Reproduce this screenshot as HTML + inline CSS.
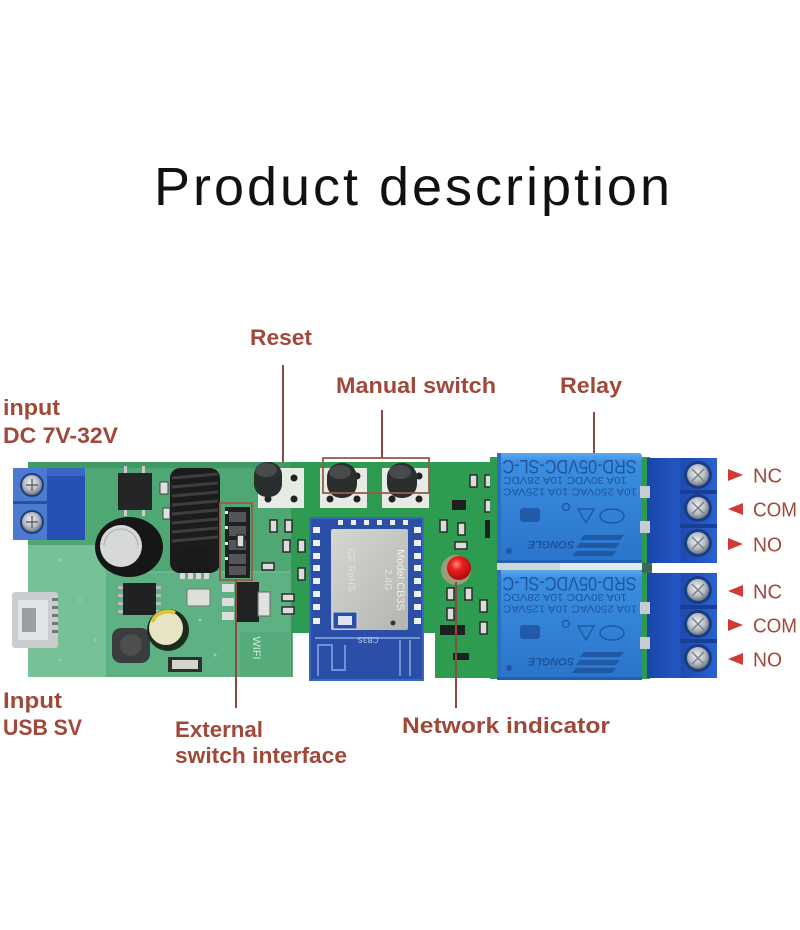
<!DOCTYPE html>
<html><head><meta charset="utf-8">
<style>
html,body{margin:0;padding:0;background:#fff;}
svg{display:block;}
text{font-family:"Liberation Sans",sans-serif;}
.lb{font-weight:bold;fill:#a0483a;font-size:22px;}
.pin{fill:#a0483a;font-size:20px;}
.ln{stroke:#8c4b40;stroke-width:2;fill:none;}
.rt{fill:#1b4c93;fill-opacity:.85;font-family:"Liberation Sans",sans-serif;}
</style></head><body>
<svg width="800" height="930" viewBox="0 0 800 930" xmlns="http://www.w3.org/2000/svg">
<defs>
<linearGradient id="rel" x1="0" y1="0" x2="0" y2="1">
<stop offset="0" stop-color="#5aaaf0"/><stop offset="0.08" stop-color="#3a8ee0"/><stop offset="1" stop-color="#2a74cc"/>
</linearGradient>
<linearGradient id="tb" x1="0" y1="0" x2="1" y2="0">
<stop offset="0" stop-color="#1a46a8"/><stop offset="0.45" stop-color="#2256c2"/><stop offset="0.5" stop-color="#1d4bb0"/><stop offset="1" stop-color="#2a62d0"/>
</linearGradient>
<radialGradient id="scr" cx="0.45" cy="0.4" r="0.6">
<stop offset="0" stop-color="#f0f2f4"/><stop offset="0.6" stop-color="#b8bec6"/><stop offset="1" stop-color="#6a7480"/>
</radialGradient>
<linearGradient id="shd" x1="0" y1="0" x2="1" y2="1">
<stop offset="0" stop-color="#d6d7d2"/><stop offset="1" stop-color="#b3b5b0"/>
</linearGradient>
<radialGradient id="led" cx="0.4" cy="0.35" r="0.6">
<stop offset="0" stop-color="#ff8a80"/><stop offset="0.4" stop-color="#ec2020"/><stop offset="1" stop-color="#b01010"/>
</radialGradient>
</defs>
<rect width="800" height="930" fill="#fff"/>

<!-- Title -->
<text x="154" y="205" font-size="54" textLength="516" lengthAdjust="spacing" fill="#111">Product description</text>

<!-- Labels -->
<text class="lb" x="250" y="345" textLength="62" lengthAdjust="spacingAndGlyphs">Reset</text>
<text class="lb" x="336" y="393" textLength="160" lengthAdjust="spacingAndGlyphs">Manual switch</text>
<text class="lb" x="560" y="393" textLength="62" lengthAdjust="spacingAndGlyphs">Relay</text>
<text class="lb" x="3" y="415" textLength="57" lengthAdjust="spacingAndGlyphs">input</text>
<text class="lb" x="3" y="443" textLength="115" lengthAdjust="spacingAndGlyphs">DC 7V-32V</text>
<text class="lb" x="3" y="708" textLength="59" lengthAdjust="spacingAndGlyphs">Input</text>
<text class="lb" x="3" y="735" textLength="79" lengthAdjust="spacingAndGlyphs">USB SV</text>
<text class="lb" x="175" y="737" textLength="88" lengthAdjust="spacingAndGlyphs">External</text>
<text class="lb" x="175" y="763" textLength="172" lengthAdjust="spacingAndGlyphs">switch interface</text>
<text class="lb" x="402" y="733" textLength="208" lengthAdjust="spacingAndGlyphs">Network indicator</text>

<!-- Connector lines -->
<line class="ln" x1="283" y1="365" x2="283" y2="466"/>
<line class="ln" x1="382" y1="410" x2="382" y2="458"/>
<line class="ln" x1="594" y1="412" x2="594" y2="453"/>

<!-- PCB -->
<path d="M28,462 H652 V678 H435 V633 H423 V680 H313 V633 H290 V677 H28 Z" fill="#2e9c50"/>
<!-- left section -->
<rect x="28" y="462" width="264" height="215" fill="#4fa874"/>
<rect x="28" y="545" width="78" height="132" fill="#76c296"/>
<rect x="106" y="572" width="186" height="105" fill="#5eb182"/>
<rect x="28" y="462" width="264" height="6" fill="#3f9b64"/>
<line x1="292" y1="462" x2="292" y2="677" stroke="#3a8e5a" stroke-width="1.5"/>
<line x1="100" y1="572" x2="290" y2="572" stroke="#6fbc90" stroke-width="1.5"/>
<rect x="240" y="632" width="50" height="45" fill="#55ac7a"/>
<text x="253" y="648" font-size="11" fill="#cfe9d8" transform="rotate(90 253 648)" text-anchor="middle">WIFI</text>
<!-- scattered dots/vias -->
<g fill="#8fd0aa">
<circle cx="60" cy="560" r="1.5"/><circle cx="80" cy="600" r="1.5"/><circle cx="95" cy="640" r="1.5"/><circle cx="200" cy="620" r="1.5"/><circle cx="215" cy="655" r="1.5"/><circle cx="60" cy="660" r="1.5"/>
</g>

<!-- Left terminal block -->
<rect x="45" y="468" width="40" height="72" fill="#2650b4"/>
<rect x="45" y="468" width="40" height="8" fill="#3a66c8"/>
<rect x="13" y="468" width="34" height="72" fill="#4b7ad0"/>
<rect x="13" y="501" width="34" height="3" fill="#2a4f9c"/>
<circle cx="32" cy="485" r="12" fill="#1d3d80"/>
<circle cx="32" cy="485" r="10" fill="url(#scr)"/>
<circle cx="32" cy="522" r="12" fill="#1d3d80"/>
<circle cx="32" cy="522" r="10" fill="url(#scr)"/>
<path d="M26,485 H38 M32,479 V491 M26,522 H38 M32,516 V528" stroke="#666" stroke-width="1.5"/>

<!-- top small IC -->
<rect x="124" y="466" width="3" height="8" fill="#ccc"/><rect x="142" y="466" width="3" height="8" fill="#ccc"/>
<rect x="124" y="508" width="3" height="8" fill="#ccc"/><rect x="142" y="508" width="3" height="8" fill="#ccc"/>
<rect x="118" y="473" width="34" height="37" fill="#232526"/>
<rect x="160" y="482" width="8" height="12" fill="#e0e0e0" stroke="#444" stroke-width="1"/>
<rect x="163" y="508" width="7" height="11" fill="#e0e0e0" stroke="#444" stroke-width="1"/>

<!-- big capacitor -->
<ellipse cx="129" cy="547" rx="34" ry="30" fill="#161616"/>
<circle cx="121" cy="546" r="21" fill="#d6d9d6"/>
<path d="M104,546 A17,17 0 0 1 138,546" stroke="#aab0aa" fill="none" stroke-width="1"/>

<!-- coil -->
<rect x="170" y="468" width="50" height="105" rx="10" fill="#1c1c1c"/>
<g stroke="#3e3e3e" stroke-width="3">
<line x1="172" y1="478" x2="218" y2="474"/><line x1="172" y1="487" x2="218" y2="483"/><line x1="172" y1="496" x2="218" y2="492"/><line x1="172" y1="505" x2="218" y2="501"/><line x1="172" y1="514" x2="218" y2="510"/><line x1="172" y1="523" x2="218" y2="519"/><line x1="172" y1="532" x2="218" y2="528"/><line x1="172" y1="541" x2="218" y2="537"/>
</g>
<rect x="178" y="548" width="32" height="25" fill="#1a1a1a"/>
<g fill="#d8dcd8"><rect x="180" y="573" width="5" height="6"/><rect x="188" y="573" width="5" height="6"/><rect x="196" y="573" width="5" height="6"/><rect x="204" y="573" width="5" height="6"/></g>

<!-- header ext switch -->
<rect x="225" y="507" width="25" height="71" fill="#1e2022"/>
<g fill="#555"><rect x="229" y="512" width="17" height="10"/><rect x="229" y="526" width="17" height="10"/><rect x="229" y="540" width="17" height="10"/><rect x="229" y="554" width="17" height="10"/><rect x="229" y="566" width="17" height="9"/></g>
<g fill="#e8e8e8"><rect x="225" y="511" width="3" height="3"/><rect x="225" y="526" width="3" height="3"/><rect x="225" y="542" width="3" height="3"/><rect x="225" y="557" width="3" height="3"/></g>
<rect x="220" y="503" width="32" height="77" fill="none" stroke="#9a5a48" stroke-width="1.8"/>

<!-- 8-pin IC -->
<g fill="#bbb"><rect x="118" y="586" width="5" height="3"/><rect x="118" y="594" width="5" height="3"/><rect x="118" y="602" width="5" height="3"/><rect x="118" y="610" width="5" height="3"/><rect x="156" y="586" width="5" height="3"/><rect x="156" y="594" width="5" height="3"/><rect x="156" y="602" width="5" height="3"/><rect x="156" y="610" width="5" height="3"/></g>
<rect x="123" y="583" width="33" height="32" fill="#1f2122"/>

<!-- crystal -->
<rect x="187" y="589" width="23" height="17" rx="2" fill="#dedfd8" stroke="#777" stroke-width="1"/>

<!-- micro USB -->
<rect x="12" y="592" width="46" height="56" rx="3" fill="#c9cdcf"/>
<rect x="18" y="600" width="30" height="40" fill="#e2e5e6"/>
<rect x="22" y="608" width="14" height="24" fill="#9a9fa2"/>
<g fill="#777"><rect x="52" y="598" width="6" height="3"/><rect x="52" y="606" width="6" height="3"/><rect x="52" y="614" width="6" height="3"/><rect x="52" y="622" width="6" height="3"/><rect x="52" y="630" width="6" height="3"/></g>

<!-- inductor -->
<rect x="112" y="628" width="38" height="35" rx="9" fill="#3a3c3e"/>
<circle cx="131" cy="645" r="11" fill="#4c4e50"/>

<!-- small cap -->
<circle cx="168" cy="630" r="21" fill="#1d2a1e"/>
<circle cx="166" cy="628" r="17" fill="#e6e4c4"/>
<path d="M152,622 A17,17 0 0 1 175,613" stroke="#d8c63a" stroke-width="4" fill="none"/>
<rect x="168" y="657" width="34" height="15" fill="#2d2f30"/>
<rect x="172" y="660" width="26" height="9" fill="#d5d5cc"/>

<!-- regulator -->
<rect x="222" y="584" width="12" height="8" fill="#ddd"/><rect x="222" y="598" width="12" height="8" fill="#ddd"/><rect x="222" y="612" width="12" height="8" fill="#ddd"/>
<rect x="235" y="582" width="24" height="40" fill="#202224"/>
<rect x="258" y="592" width="12" height="24" fill="#e0e0e0" stroke="#666" stroke-width="1"/>
<line class="ln" x1="236" y1="580" x2="236" y2="708"/>

<!-- small smd on middle -->
<g fill="#dcdcdc" stroke="#2b2b2b" stroke-width="1.5">
<rect x="270" y="520" width="7" height="12"/><rect x="285" y="520" width="7" height="12"/>
<rect x="283" y="540" width="7" height="12"/><rect x="298" y="540" width="7" height="12"/>
<rect x="262" y="563" width="12" height="7"/><rect x="298" y="568" width="7" height="12"/>
<rect x="282" y="594" width="12" height="7"/><rect x="282" y="607" width="12" height="7"/>
<rect x="237" y="535" width="7" height="12"/>
<rect x="440" y="520" width="7" height="12"/><rect x="458" y="523" width="7" height="12"/>
<rect x="455" y="542" width="12" height="7"/>
<rect x="447" y="588" width="7" height="12"/><rect x="465" y="588" width="7" height="12"/>
<rect x="447" y="608" width="7" height="12"/><rect x="480" y="600" width="7" height="12"/>
<rect x="480" y="622" width="7" height="12"/>
<rect x="470" y="475" width="7" height="12"/><rect x="485" y="475" width="7" height="12"/>
<rect x="485" y="500" width="7" height="12"/>
</g>
<rect x="452" y="500" width="14" height="10" fill="#1d1f20"/>
<rect x="485" y="520" width="8" height="18" fill="#1d1f20"/>
<rect x="453" y="653" width="16" height="7" fill="#1d1f20"/>
<rect x="440" y="625" width="25" height="10" fill="#1d1f20"/>

<!-- reset button -->
<rect x="258" y="468" width="46" height="40" fill="#e7ebe6"/>
<g fill="#222"><circle cx="268" cy="478" r="3.5"/><circle cx="294" cy="478" r="3.5"/><circle cx="268" cy="499" r="3.5"/><circle cx="294" cy="499" r="3.5"/></g>
<rect x="254" y="462" width="28" height="35" rx="13" fill="#2b2e2f"/>
<ellipse cx="266" cy="470" rx="11" ry="7" fill="#474b4c"/>

<!-- manual switch buttons -->
<rect x="320" y="468" width="47" height="40" fill="#e7ebe6"/>
<rect x="382" y="468" width="47" height="40" fill="#e7ebe6"/>
<g fill="#222"><circle cx="330" cy="499" r="3.5"/><circle cx="357" cy="499" r="3.5"/><circle cx="357" cy="476" r="3.5"/><circle cx="392" cy="499" r="3.5"/><circle cx="419" cy="499" r="3.5"/><circle cx="419" cy="476" r="3.5"/></g>
<rect x="327" y="463" width="30" height="35" rx="14" fill="#2b2e2f"/>
<rect x="387" y="463" width="30" height="35" rx="14" fill="#2b2e2f"/>
<ellipse cx="340" cy="472" rx="11" ry="7" fill="#474b4c"/>
<ellipse cx="400" cy="472" rx="11" ry="7" fill="#474b4c"/>
<rect x="323" y="458" width="106" height="35" fill="none" stroke="#9a5a48" stroke-width="1.8"/>

<!-- ESP module -->
<rect x="310" y="518" width="113" height="162" fill="#2b4fa6" stroke="#3c66c4" stroke-width="2"/>
<g fill="#eef0f0">
<rect x="313" y="527" width="7" height="6"/><rect x="313" y="540" width="7" height="6"/><rect x="313" y="553" width="7" height="6"/><rect x="313" y="565" width="7" height="6"/><rect x="313" y="578" width="7" height="6"/><rect x="313" y="591" width="7" height="6"/><rect x="313" y="604" width="7" height="6"/><rect x="313" y="618" width="7" height="6"/>
<rect x="414" y="527" width="7" height="6"/><rect x="414" y="540" width="7" height="6"/><rect x="414" y="553" width="7" height="6"/><rect x="414" y="565" width="7" height="6"/><rect x="414" y="578" width="7" height="6"/><rect x="414" y="591" width="7" height="6"/><rect x="414" y="604" width="7" height="6"/><rect x="414" y="618" width="7" height="6"/>
<rect x="338" y="520" width="5" height="5"/><rect x="351" y="520" width="5" height="5"/><rect x="364" y="520" width="5" height="5"/><rect x="377" y="520" width="5" height="5"/><rect x="390" y="520" width="5" height="5"/><rect x="403" y="520" width="5" height="5"/>
</g>
<rect x="331" y="529" width="77" height="101" rx="2" fill="url(#shd)"/>
<text x="397" y="580" font-size="11" fill="#eeeeea" text-anchor="middle" transform="rotate(90 397 580)">Model:CB3S</text>
<text x="385" y="580" font-size="10" fill="#e4e4de" text-anchor="middle" transform="rotate(90 385 580)">2.4G</text>
<text x="348" y="570" font-size="10" fill="#e2e2dc" text-anchor="middle" transform="rotate(90 348 570)">CE RoHS</text>
<circle cx="393" cy="623" r="2.5" fill="#333"/>
<rect x="333" y="612" width="24" height="17" fill="#2b4fa6" stroke="#cfd6e6" stroke-width="1"/>
<rect x="338" y="616" width="14" height="9" fill="#dfe4ee"/>
<g stroke="#6f92d8" stroke-width="2" fill="none">
<path d="M318,676 V645 H332 V670 H345 V645"/>
<line x1="400" y1="640" x2="400" y2="676"/><line x1="410" y1="640" x2="410" y2="676"/>
<line x1="315" y1="638" x2="420" y2="638"/>
</g>
<text x="368" y="643" font-size="8" fill="#b9c8ea" text-anchor="middle" transform="rotate(180 368 640)">CB3S</text>

<!-- LED -->
<circle cx="456" cy="570" r="15" fill="#f0a0a0" fill-opacity=".55"/>
<circle cx="459" cy="568" r="12" fill="url(#led)"/>
<line class="ln" x1="456" y1="582" x2="456" y2="708"/>

<!-- board under relays -->
<rect x="490" y="457" width="160" height="222" fill="#2d9a52"/>

<!-- Relay 1 -->
<rect x="497" y="453" width="145" height="110" rx="3" fill="url(#rel)"/>
<rect x="497" y="453" width="4" height="110" fill="#2a6fc0"/>
<rect x="497" y="560" width="145" height="3" fill="#2160b0"/>
<!-- Relay 2 -->
<rect x="497" y="570" width="145" height="110" rx="3" fill="url(#rel)"/>
<rect x="497" y="570" width="4" height="110" fill="#2a6fc0"/>
<rect x="497" y="677" width="145" height="3" fill="#2160b0"/>
<!-- gap -->
<rect x="497" y="563" width="150" height="7" fill="#cfd8d4"/>
<rect x="560" y="563" width="90" height="7" fill="#e4ebe8"/>

<!-- relay markings (upside-down) -->
<g class="rt">
<text x="569.5" y="475" font-size="19" text-anchor="middle" textLength="134" lengthAdjust="spacingAndGlyphs" transform="rotate(180 569.5 467.5)">SRD-05VDC-SL-C</text>
<text x="565" y="485" font-size="10.5" text-anchor="middle" textLength="124" lengthAdjust="spacingAndGlyphs" transform="rotate(180 565 481)">10A 30VDC 10A 28VDC</text>
<text x="570" y="496.5" font-size="10.5" text-anchor="middle" textLength="134" lengthAdjust="spacingAndGlyphs" transform="rotate(180 570 492.5)">10A 250VAC 10A 125VAC</text>
<text x="551" y="549" font-size="11" font-weight="bold" font-style="italic" text-anchor="middle" transform="rotate(180 551 545)">SONGLE</text>
<text x="569.5" y="592" font-size="19" text-anchor="middle" textLength="134" lengthAdjust="spacingAndGlyphs" transform="rotate(180 569.5 584.5)">SRD-05VDC-SL-C</text>
<text x="565" y="602" font-size="10.5" text-anchor="middle" textLength="124" lengthAdjust="spacingAndGlyphs" transform="rotate(180 565 598)">10A 30VDC 10A 28VDC</text>
<text x="570" y="613.5" font-size="10.5" text-anchor="middle" textLength="134" lengthAdjust="spacingAndGlyphs" transform="rotate(180 570 609.5)">10A 250VAC 10A 125VAC</text>
<text x="551" y="666" font-size="11" font-weight="bold" font-style="italic" text-anchor="middle" transform="rotate(180 551 662)">SONGLE</text>
</g>
<g fill="none" stroke="#1b4c93" stroke-opacity=".75" stroke-width="1.5">
<ellipse cx="612" cy="516" rx="12" ry="7"/><path d="M578,509 L594,509 L586,523 Z"/><circle cx="566" cy="507" r="3.5"/>
<ellipse cx="612" cy="633" rx="12" ry="7"/><path d="M578,626 L594,626 L586,640 Z"/><circle cx="566" cy="624" r="3.5"/>
</g>
<g fill="#1b4c93" fill-opacity=".7">
<rect x="520" y="508" width="20" height="14" rx="3"/><rect x="520" y="625" width="20" height="14" rx="3"/>
<path d="M584,535 h40 l-4,5 h-40z M580,543 h40 l-4,5 h-40z M576,551 h40 l-4,5 h-40z"/>
<path d="M584,652 h40 l-4,5 h-40z M580,660 h40 l-4,5 h-40z M576,668 h40 l-4,5 h-40z"/>
<circle cx="509" cy="551" r="3"/><circle cx="509" cy="668" r="3"/>
</g>

<!-- Right terminal blocks -->
<g>
<rect x="647" y="458" width="70" height="105" fill="url(#tb)"/>
<rect x="647" y="573" width="70" height="105" fill="url(#tb)"/>
<rect x="642" y="563" width="10" height="10" fill="#3a6a58"/>
<g fill="#c6ccd0"><rect x="640" y="486" width="10" height="12"/><rect x="640" y="521" width="10" height="12"/><rect x="640" y="602" width="10" height="12"/><rect x="640" y="637" width="10" height="12"/></g>
<g fill="#173f96"><rect x="680" y="490" width="37" height="4"/><rect x="680" y="524" width="37" height="4"/><rect x="680" y="605" width="37" height="4"/><rect x="680" y="639" width="37" height="4"/></g>
<g fill="#1a3c82">
<circle cx="698" cy="475" r="14"/><circle cx="698" cy="508" r="14"/><circle cx="698" cy="543" r="14"/>
<circle cx="698" cy="590" r="14"/><circle cx="698" cy="624" r="14"/><circle cx="698" cy="658" r="14"/>
</g>
<g fill="url(#scr)">
<circle cx="698" cy="475" r="11"/><circle cx="698" cy="508" r="11"/><circle cx="698" cy="543" r="11"/>
<circle cx="698" cy="590" r="11"/><circle cx="698" cy="624" r="11"/><circle cx="698" cy="658" r="11"/>
</g>
<g stroke="#7a828a" stroke-width="1.5">
<path d="M692,469 L704,481 M704,469 L692,481"/><path d="M692,502 L704,514 M704,502 L692,514"/><path d="M692,537 L704,549 M704,537 L692,549"/>
<path d="M692,584 L704,596 M704,584 L692,596"/><path d="M692,618 L704,630 M704,618 L692,630"/><path d="M692,652 L704,664 M704,652 L692,664"/>
</g>
</g>

<!-- pin arrows & labels -->
<g fill="#d23a34">
<polygon points="728,469 743,475 728,481"/>
<polygon points="743,503 728,509 743,515"/>
<polygon points="728,538 743,544 728,550"/>
<polygon points="743,585 728,591 743,597"/>
<polygon points="728,619 743,625 728,631"/>
<polygon points="743,653 728,659 743,665"/>
</g>
<text class="pin" x="753" y="482.5" textLength="29" lengthAdjust="spacingAndGlyphs">NC</text>
<text class="pin" x="753" y="516.5" textLength="44" lengthAdjust="spacingAndGlyphs">COM</text>
<text class="pin" x="753" y="551.5" textLength="29" lengthAdjust="spacingAndGlyphs">NO</text>
<text class="pin" x="753" y="598.5" textLength="29" lengthAdjust="spacingAndGlyphs">NC</text>
<text class="pin" x="753" y="632.5" textLength="44" lengthAdjust="spacingAndGlyphs">COM</text>
<text class="pin" x="753" y="666.5" textLength="29" lengthAdjust="spacingAndGlyphs">NO</text>
</svg>
</body></html>
